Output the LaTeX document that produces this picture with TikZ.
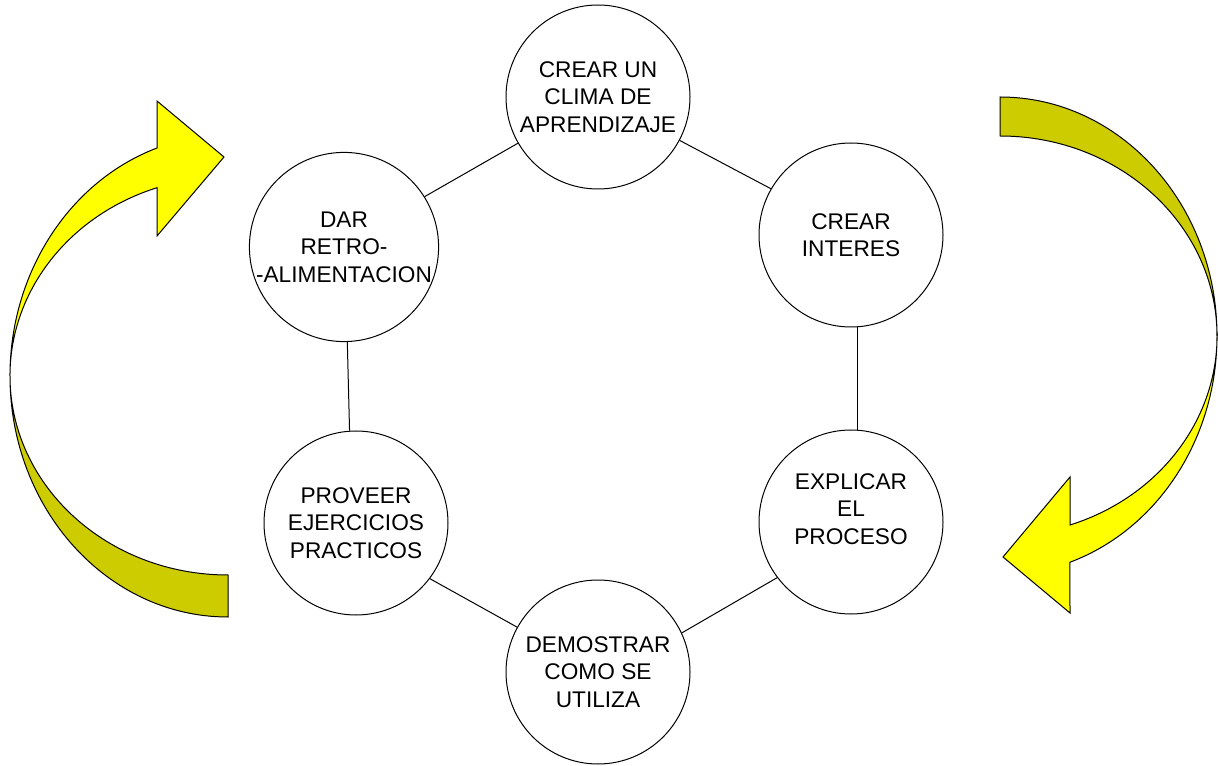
\documentclass[tikz,border=0pt]{standalone}
\usepackage{fontspec}
\setmainfont{Liberation Sans}
\definecolor{arrowlight}{RGB}{255,255,0}
\definecolor{arrowdark}{RGB}{204,204,0}
\begin{document}
\begin{tikzpicture}[
x=0.75pt, y=0.75pt,
roundnode/.style={circle, draw=black, line width=0.75pt, minimum size=138pt, inner sep=0pt, align=center, font=\fontsize{17}{20.6}\selectfont},
arrowface/.style={draw=black, line width=0.75pt, fill=arrowlight},
arrowback/.style={draw=black, line width=0.75pt, fill=arrowdark},
]
\useasboundingbox (0,0) rectangle (1218,765);
%Nodes
\node[roundnode]      at (598,668) (clima) {CREAR UN\\CLIMA DE\\APRENDIZAJE};
\node[roundnode]      at (851,530) (interes) {CREAR\\INTERES};
\node[roundnode, text depth=20pt] at (851,243) (explicar) {EXPLICAR\\EL\\PROCESO};
\node[roundnode]      at (598,93) (demostrar) {DEMOSTRAR\\COMO SE\\UTILIZA};
\node[roundnode]      at (356,242) (proveer) {PROVEER\\EJERCICIOS\\PRACTICOS};
\node[roundnode]      at (344,518) (dar) {DAR\\RETRO-\\-ALIMENTACION};
%Lines
\draw[line width=0.75pt] (clima.210) -- (dar.32);
\draw[line width=0.75pt] (clima.332) -- (interes.150);
\draw[line width=0.75pt] (interes.274) -- (explicar.86);
\draw[line width=0.75pt] (explicar.217) -- (demostrar.25);
\draw[line width=0.75pt] (demostrar.151) -- (proveer.323);
\draw[line width=0.75pt] (proveer.94) -- (dar.272);
%Left arrow
\draw[arrowback] (10,389) arc[start angle=180, end angle=270, x radius=218, y radius=241]
  -- (228,190) arc[start angle=270, end angle=180, x radius=218, y radius=199] -- cycle;
\draw[arrowface] (157,617) arc[start angle=109, end angle=180, x radius=218, y radius=241]
  arc[start angle=180, end angle=109, x radius=218, y radius=199]
  -- (157,529) -- (224,608) -- (157,664) -- cycle;
%Right arrow
\draw[arrowback] (1000,668) arc[start angle=90, end angle=0, x radius=217, y radius=239]
  arc[start angle=0, end angle=90, x radius=217, y radius=200] -- cycle;
\draw[arrowface] (1217,429) arc[start angle=0, end angle=-71.2, x radius=217, y radius=239]
  -- (1070,152) -- (1003,208) -- (1070,288) -- (1070,240)
  arc[start angle=-71.2, end angle=0, x radius=217, y radius=200] -- cycle;
\end{tikzpicture}
\end{document}
